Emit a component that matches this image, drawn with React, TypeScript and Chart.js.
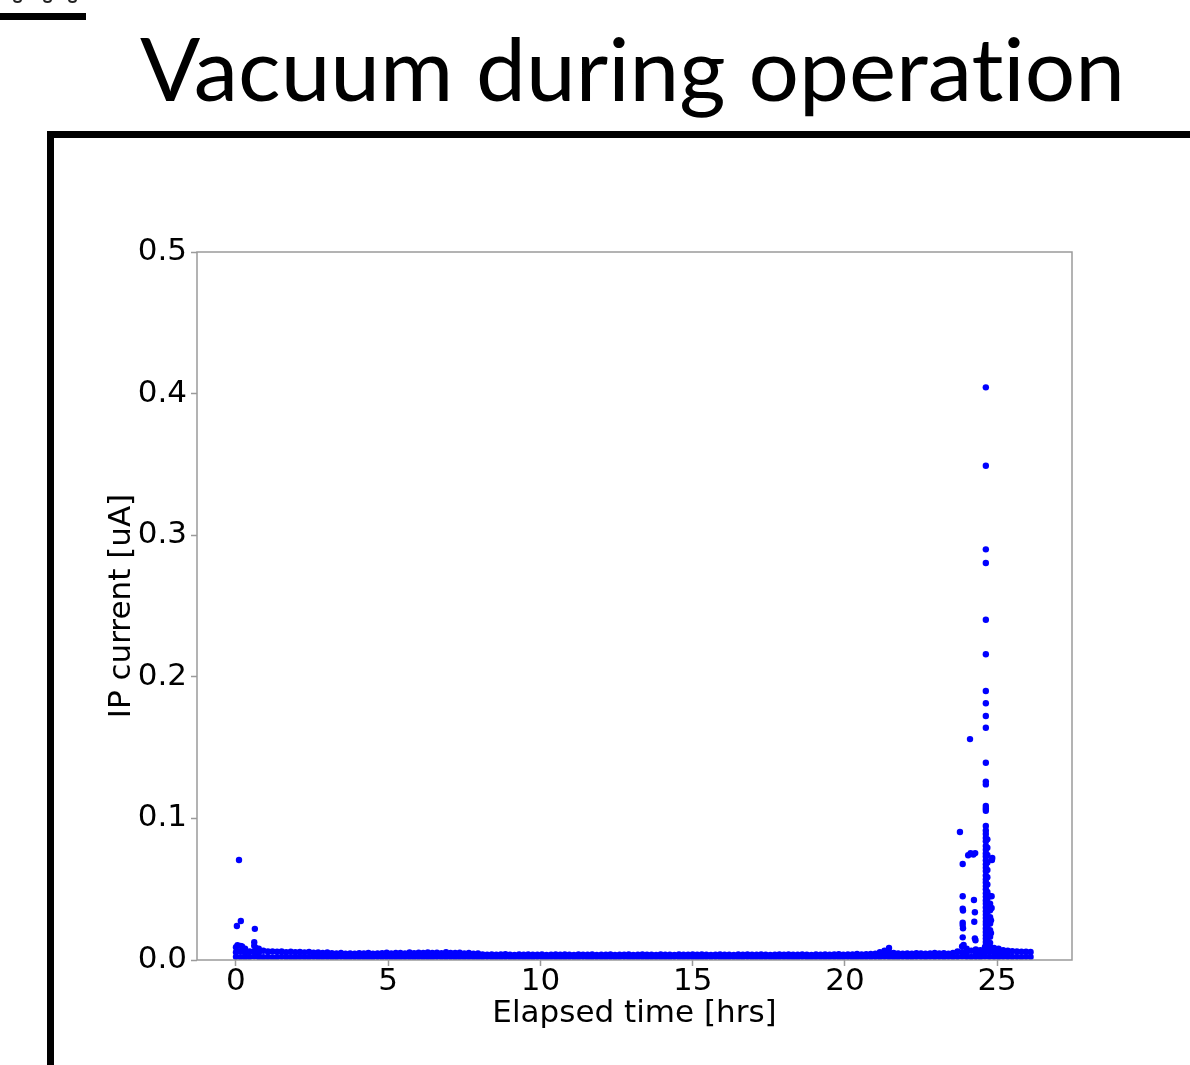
import React, { useEffect, useLayoutEffect, useRef } from 'react';
import { Chart, registerables } from 'chart.js';

Chart.register(...registerables);

// ---------- text ----------
const TITLE = 'Vacuum during operation';
const X_LABEL = 'Elapsed time [hrs]';
const Y_LABEL = 'IP current [uA]';

// ---------- axes ----------
const X_MIN = -1.28;
const X_MAX = 27.46;
const X_TICKS = [0, 5, 10, 15, 20, 25];
const Y_MIN = 0;
const Y_MAX = 0.5;
const Y_TICKS = [0, 0.1, 0.2, 0.3, 0.4, 0.5];

// ---------- data ----------
// dense baseline band: logger samples every BASE_DT hours from BASE_T0 (values in nA)
const BASE_T0 = 0;
const BASE_DT = 0.15;
const baselineUpper_nA = [
  9, 10, 8, 6, 10, 8, 6.5, 6, 6, 5.8, 6, 5.5, 5.8, 5.5, 5.6, 5.4, 5.6, 5.2, 5.4, 5.0, 5.3,
  4.8, 4.6, 5.0, 4.5, 4.7, 4.4, 4.8, 4.6, 4.9, 4.5, 4.6, 4.8, 5.2, 4.6, 4.9, 5.0, 4.7, 5.3, 4.8, 5.1,
  4.9, 5.4, 5.0, 5.2, 4.8, 5.5, 5.0, 4.9, 5.2, 4.7, 4.9, 4.5, 4.6,
  3.9, 3.8, 4.0, 3.7, 3.9, 4.1, 3.8, 3.6, 3.9, 3.8,
  4.0, 3.7, 3.8, 3.9, 3.6, 3.8, 4.0, 3.7, 3.9, 3.8,
  3.6, 3.9, 3.7, 3.8, 4.0, 3.6, 3.8, 3.7, 3.9, 3.6,
  3.8, 3.7, 3.9, 3.6, 3.8, 4.0, 3.7, 3.8, 3.6, 3.9,
  3.7, 3.8, 3.6, 3.9, 3.7, 3.8, 4.0, 3.7, 3.9, 3.8,
  3.6, 3.8, 3.9, 3.7, 3.8, 3.6, 3.9, 3.8, 4.0, 3.7,
  3.8, 3.9, 3.7, 3.6, 3.8, 3.9, 3.7, 4.0, 3.8, 3.7,
  3.9, 3.8, 3.6, 3.9, 3.7, 4.0, 3.8, 3.9, 4.1, 3.8,
  4.0, 3.9, 4.2, 4.0, 4.1, 4.3,
  4.5, 5.5, 6.5, 8.5, 5.0,
  4.6, 4.4, 4.7, 4.5, 4.8, 4.6, 4.4, 4.7, 4.9, 4.6, 4.8, 4.5, 5.0,
  6.0, 9.5, 8.0, 6.5, 7.5, 7.0, 9.0,
  9.5, 8.5, 8.0, 7.0, 6.5, 6.3, 6.0, 5.8, 5.8, 5.6,
];
const baselineLower_nA = [
  2.2, 2.0, 1.8, 2.1, 2.4, 2.0, 1.9, 2.1, 1.8, 2.0,
  2.2, 1.9, 2.0, 1.8, 2.1, 2.0, 1.9, 2.2, 1.8, 2.0,
  2.1, 1.9, 2.0, 2.2, 1.8, 2.0, 2.1, 1.9, 2.0, 1.8,
  2.0, 2.2, 1.9, 2.1, 1.8, 2.0, 1.9, 2.1, 2.0, 1.8,
  2.1, 1.9, 2.0, 1.8, 2.2, 2.0, 1.9, 2.1, 1.8, 2.0,
  1.9, 2.1, 2.0, 1.8, 2.0, 2.2, 1.9, 2.0, 1.8, 2.1,
  2.0, 1.9, 2.1, 1.8, 2.0, 1.9, 2.2, 2.0, 1.8, 2.1,
  1.9, 2.0, 1.8, 2.1, 2.0, 1.9, 2.2, 1.8, 2.0, 2.1,
  2.0, 1.8, 2.1, 1.9, 2.0, 2.2, 1.8, 2.0, 1.9, 2.1,
  1.8, 2.0, 2.1, 1.9, 2.0, 1.8, 2.2, 2.0, 1.9, 2.1,
  2.0, 1.9, 1.8, 2.1, 2.0, 2.2, 1.9, 1.8, 2.0, 2.1,
  1.9, 2.0, 2.2, 1.8, 2.0, 1.9, 2.1, 2.0, 1.8, 2.0,
  2.1, 1.9, 2.0, 1.8, 2.2, 2.0, 1.9, 2.1, 2.0, 1.8,
  2.0, 2.1, 1.9, 2.0, 2.2, 1.8, 2.0, 1.9, 2.1, 2.0,
  2.2, 2.0, 2.3, 2.1, 1.9, 2.0, 2.2, 2.1, 2.0, 2.3,
  2.2, 2.0, 2.3, 2.1, 2.2, 2.0, 2.3, 2.1, 2.2, 2.4,
  2.3, 2.1, 2.2, 2.0, 2.4, 2.3, 2.2, 2.1, 2.3, 2.2,
  2.1, 2.2, 2.0, 2.2, 2.1,
];
// extra band samples in the thicker parts [hrs, nA]
const baselineFill: [number, number][] = [
  [0.0, 5.5], [0.15, 6], [0.3, 5], [0.6, 6], [0.75, 5],
  [21.3, 4.5], [21.45, 5.5],
  [23.85, 5.5], [24.0, 5], [24.3, 4.8], [24.45, 4.6], [24.6, 5.5],
  [24.75, 6], [24.9, 5.5], [25.05, 5], [25.2, 4.6], [25.35, 4.4],
];
// start-up outgassing [hrs, uA]
const startupSpikes: [number, number][] = [
  [0.10, 0.0706], [0.03, 0.024], [0.16, 0.0275], [0.62, 0.022], [0.60, 0.0125],
  [0.05, 0.0105], [0.2, 0.0095], [0.65, 0.0085],
];
// events shortly before the burst [hrs, uA]
const preBurstSpikes: [number, number][] = [
  [23.78, 0.0904], [23.87, 0.0678], [23.87, 0.045], [23.87, 0.0362], [23.88, 0.035],
  [23.87, 0.0264], [23.87, 0.0247], [23.88, 0.0224], [23.87, 0.016], [23.9, 0.0106],
  [24.05, 0.074], [24.13, 0.0755], [24.11, 0.156], [24.28, 0.0755], [24.22, 0.0745],
  [24.24, 0.0424], [24.27, 0.0337], [24.25, 0.027], [24.27, 0.0153], [24.29, 0.014],
];
// main burst, uA
const BURST_T_A = 24.63;
const burstColumnA_uA = [
  0.4044, 0.349, 0.29, 0.2804, 0.2403, 0.2159, 0.19, 0.1813, 0.1723, 0.164, 0.1393,
  0.126, 0.124, 0.1088, 0.107, 0.1054, 0.0946, 0.0915, 0.089, 0.0862, 0.0838, 0.0805,
  0.0779, 0.0752, 0.0731, 0.0704, 0.0677, 0.0651, 0.0628, 0.0597, 0.0571, 0.0548,
  0.0522, 0.0499, 0.0471, 0.0446, 0.042, 0.0397, 0.0371, 0.0344, 0.032, 0.0296,
  0.0271, 0.0249, 0.0222, 0.0198, 0.0175, 0.0151, 0.0127, 0.0104, 0.0082, 0.0065,
];
const BURST_T_B = 24.68;
const burstColumnB_uA = [
  0.0852, 0.0793, 0.0741, 0.0688, 0.0636, 0.0584, 0.0533, 0.0481, 0.0432, 0.0385,
  0.0338, 0.0287, 0.0241, 0.0193, 0.0146, 0.0101, 0.0072,
];
const BURST_T_C = 24.77;
const burstColumnC_uA = [0.0452, 0.0398, 0.0351, 0.0302, 0.0258, 0.0211, 0.0165, 0.0121, 0.0088];
const burstRight: [number, number][] = [
  [24.84, 0.072], [24.83, 0.0706], [24.82, 0.045], [24.82, 0.0367], [24.8, 0.028], [24.8, 0.019],
];

// ---------- style ----------
const BLUE = '#0000ff';
const FRAME = '#9a9a9a';
const AXIS_FONT = { family: 'DejaVu Sans', size: 31 };

const framePlugin = {
  id: 'frame',
  afterDatasetsDraw(chart: any) {
    const { ctx, chartArea: a } = chart;
    ctx.save();
    ctx.strokeStyle = FRAME;
    ctx.lineWidth = 1.5;
    ctx.strokeRect(a.left, a.top, a.right - a.left, a.bottom - a.top);
    ctx.restore();
  },
};

export default function App() {
  const canvasRef = useRef<HTMLCanvasElement>(null);
  const titleRef = useRef<HTMLSpanElement>(null);

  useLayoutEffect(() => {
    const el = titleRef.current;
    if (!el) return;
    el.style.transform = 'none';
    const w = el.getBoundingClientRect().width;
    if (w > 0) el.style.transform = `scaleX(${985 / w})`;
  }, []);

  useEffect(() => {
    if (!canvasRef.current) return;
    const band = [
      ...baselineUpper_nA.map((v, i) => ({ x: BASE_T0 + i * BASE_DT, y: v / 1000 })),
      ...baselineLower_nA.map((v, i) => ({ x: BASE_T0 + i * BASE_DT, y: v / 1000 })),
      ...baselineFill.map(([t, v]) => ({ x: t, y: v / 1000 })),
    ];
    const events = [
      ...startupSpikes.map(([t, v]) => ({ x: t, y: v })),
      ...preBurstSpikes.map(([t, v]) => ({ x: t, y: v })),
      ...burstColumnA_uA.map((v) => ({ x: BURST_T_A, y: v })),
      ...burstColumnB_uA.map((v) => ({ x: BURST_T_B, y: v })),
      ...burstColumnC_uA.map((v) => ({ x: BURST_T_C, y: v })),
      ...burstRight.map(([t, v]) => ({ x: t, y: v })),
    ];
    const pointStyle = {
      backgroundColor: BLUE,
      borderColor: BLUE,
      borderWidth: 0,
      pointRadius: 3.2,
      pointHoverRadius: 3.2,
      showLine: false,
      clip: 0,
    };
    const chart = new Chart(canvasRef.current, {
      type: 'scatter',
      data: {
        datasets: [
          { label: 'baseline', data: band, ...pointStyle } as any,
          { label: 'events', data: events, ...pointStyle } as any,
        ],
      },
      options: {
        animation: false,
        responsive: false,
        maintainAspectRatio: false,
        events: [],
        layout: { padding: { left: 103, top: 252, right: 118, bottom: 32 } },
        plugins: { legend: { display: false }, tooltip: { enabled: false } },
        scales: {
          x: {
            type: 'linear',
            position: 'bottom',
            min: X_MIN,
            max: X_MAX,
            border: { display: false },
            grid: { drawOnChartArea: false, drawTicks: true, tickLength: 6, tickColor: FRAME, tickWidth: 1.5 },
            ticks: { font: AXIS_FONT, color: '#000', padding: -3, autoSkip: false, maxRotation: 0 },
            title: { display: true, text: X_LABEL, font: AXIS_FONT, color: '#000', padding: 0 },
            afterBuildTicks: (s: any) => {
              s.ticks = X_TICKS.map((v) => ({ value: v }));
            },
            afterFit: (s: any) => {
              s.height = 73;
            },
          },
          y: {
            type: 'linear',
            min: Y_MIN,
            max: Y_MAX,
            border: { display: false },
            grid: { drawOnChartArea: false, drawTicks: true, tickLength: 6, tickColor: FRAME, tickWidth: 1.5 },
            ticks: {
              font: AXIS_FONT,
              color: '#000',
              padding: 4,
              callback: (v: any) => Number(v).toFixed(1),
            },
            title: { display: true, text: Y_LABEL, font: AXIS_FONT, color: '#000', padding: 0 },
            afterBuildTicks: (s: any) => {
              s.ticks = Y_TICKS.map((v) => ({ value: v }));
            },
            afterFit: (s: any) => {
              s.width = 94;
            },
          },
        },
      },
      plugins: [framePlugin],
    });
    return () => chart.destroy();
  }, []);

  return (
    <div
      style={{
        position: 'absolute',
        left: 0,
        top: 0,
        width: 1190,
        height: 1065,
        overflow: 'hidden',
        background: '#fff',
      }}
    >
      {/* cropped slide decorations */}
      <div style={{ position: 'absolute', left: 0, top: 13, width: 86, height: 7, background: '#000' }} />
      {[13, 43, 68].map((l) => (
        <div
          key={l}
          style={{ position: 'absolute', left: l, top: -4, width: 9, height: 7, borderRadius: '50%', border: '2px solid #222', boxSizing: 'border-box' }}
        />
      ))}
      <div
        style={{
          position: 'absolute',
          left: 140,
          top: 23,
          fontFamily: 'Lato, "Open Sans", sans-serif',
          fontSize: 88,
          lineHeight: 1,
          whiteSpace: 'nowrap',
          color: '#000',
          fontVariantLigatures: 'none',
          fontFeatureSettings: '"liga" 0, "clig" 0',
        }}
      >
        <span ref={titleRef} style={{ display: 'inline-block', transformOrigin: '0 0' }}>
          {TITLE}
        </span>
      </div>
      <div
        style={{
          position: 'absolute',
          left: 47,
          top: 131,
          width: 1300,
          height: 1100,
          borderTop: '7px solid #000',
          borderLeft: '7px solid #000',
          boxSizing: 'border-box',
        }}
      />
      <canvas
        ref={canvasRef}
        width={1190}
        height={1065}
        style={{ position: 'absolute', left: 0, top: 0, width: 1190, height: 1065 }}
      />
    </div>
  );
}
